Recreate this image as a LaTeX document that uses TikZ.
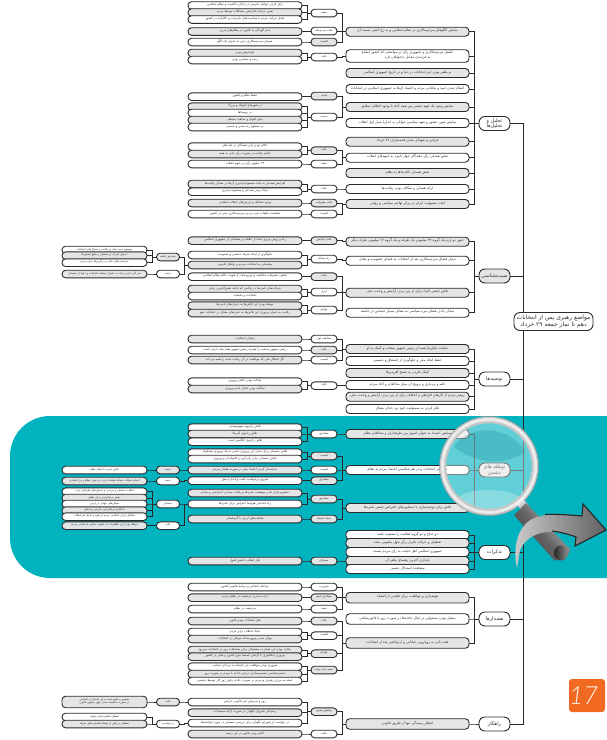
\documentclass[tikz,border=0pt]{standalone}
\usepackage{fontspec}
\usetikzlibrary{calc}
\TeXXeTstate=1
\newfontfamily\arabicfont[Script=Arabic]{DejaVu Sans}
\newfontfamily\numfont{Lato Light Italic}
\newcommand\fa[1]{{\arabicfont\raisebox{0pt}[0pt][0pt]{#1}}}
\newcommand\fb[1]{{\arabicfont #1}}
\newcommand\nm[1]{\beginL #1\endL{}}
\definecolor{tealbg}{HTML}{00B3BF}
\definecolor{boxgray}{HTML}{E4E5E6}
\definecolor{edgecol}{HTML}{2A2A2A}
\definecolor{txtcol}{HTML}{2E2E2E}
\definecolor{orangebox}{HTML}{F26A21}
\tikzset{
 pill/.style={draw=edgecol,line width=.9pt,rounded corners=3.6pt,inner sep=0pt,align=center,text=txtcol},
 wh/.style={fill=white},
 gr/.style={fill=boxgray},
 lf/.style={pill,minimum width=114pt,minimum height=7.6pt,font=\fontsize{3.1}{3.4}\selectfont},
 sb/.style={pill,minimum width=26pt,minimum height=7.6pt,font=\fontsize{2.9}{3.2}\selectfont},
 mn/.style={pill,minimum width=123pt,minimum height=9pt,font=\fontsize{3.5}{4.2}\selectfont},
 ct/.style={pill,rounded corners=6pt,minimum width=31pt,minimum height=14pt,font=\fontsize{5}{5.6}\selectfont},
 fl/.style={pill,minimum width=85pt,minimum height=7.6pt,font=\fontsize{2.8}{3.1}\selectfont},
 fs/.style={pill,minimum width=23pt,minimum height=7.6pt,font=\fontsize{2.7}{3}\selectfont},
 link/.style={draw=edgecol,line width=.8pt},
}
\newcommand\mkleaf[4]{\node[lf,#1] (#2) at (245,#3) {\fa{#4}};}
\newcommand\mksub[4]{\node[sb,#1] (#2) at (324,#3) {\fa{#4}};}
\newcommand\mkmain[4]{\node[mn,#1] (#2) at (407.5,#3) {\fa{#4}};}
\newcommand\mkfarleaf[4]{\node[fl,#1] (#2) at (104.5,#3) {\fa{#4}};}
\newcommand\mkfarsub[4]{\node[fs,#1] (#2) at (168,#3) {\fa{#4}};}
\begin{document}
\begin{tikzpicture}[x=1pt,y=-1pt]
\useasboundingbox (0,0) rectangle (607,740);
\begin{scope}
\clip (0,0) rectangle (607,740);
\fill[tealbg,rounded corners=40pt] (10,416) -- (660,416) -- (660,578) -- (10,578) -- cycle;
\end{scope}
\coordinate (trunk) at (523,322);
% ---- leaves
\mkleaf{wh}{l1}{5.5}{\beginR زایل کردن عوامل تخریبی در ارکان حاکمیت و نظام اسلامی\endR}
\mkleaf{gr}{l2}{12.5}{\beginR تعیین حرکت افزایشی مشکلات توسط مردم\endR}
\mkleaf{wh}{l3}{19.5}{\beginR تقابل حرکت مردم با سیاست‌های نادرست و ناکارآمد در کشور\endR}
\mkleaf{gr}{l4}{31.5}{\beginR عدم آلودگی به قانون در نظام‌های غربی\endR}
\mkleaf{wh}{l5}{42}{\beginR معرفی مردم‌سالاری دینی به عنوان یک الگو\endR}
\mkleaf{gr}{l6}{53}{\beginR خودجوش بودن\endR}
\mkleaf{wh}{l7}{60}{\beginR زنده و سیاسی بودن\endR}
\mkleaf{wh}{l8}{96.7}{\beginR حفظ نظام و کشور\endR}
\mkleaf{gr}{l9}{106.7}{\beginR در شهرهای کوچک و بزرگ\endR}
\mkleaf{wh}{l10}{113}{\beginR در روستاها\endR}
\mkleaf{gr}{l11}{120}{\beginR میان اقوام و مذاهب مختلف\endR}
\mkleaf{wh}{l12}{127}{\beginR در سطوح رده سنی و جنسی\endR}
\mkleaf{wh}{l13}{146.7}{\beginR ناکام بودن رأی دهندگان در یک نظر\endR}
\mkleaf{gr}{l14}{154}{\beginR انجام رقابت در صورت رأی دادن به همه\endR}
\mkleaf{wh}{l15}{164}{\beginR \nm{۱۴} میلیون رأی در جبهه انقلاب\endR}
\mkleaf{gr}{l16}{184}{\beginR افزایش همدلی به علت مسئولیت‌پذیری آن‌ها در مقابل رقابت‌ها\endR}
\mkleaf{wh}{l17}{191.7}{\beginR ایجاد زمین همدلی و مسئولیت‌پذیری\endR}
\mkleaf{gr}{l18}{203}{\beginR وجود تشکیک و ارزش‌های انقلاب اسلامی\endR}
\mkleaf{wh}{l19}{214}{\beginR شکست تبلیغات غرب و نیز مردم‌سالاری دینی در کشور\endR}
\mkleaf{gr}{l20}{240.7}{\beginR راه و روش پیروی ملت از انقلاب و پشتیبانی از جمهوری اسلامی\endR}
\mkleaf{wh}{l21}{255}{\beginR جلوگیری از ایجاد تفرقه دشمنی و خصومت\endR}
\mkleaf{gr}{l22}{265}{\beginR پشتیبانی به انتخابات مردم و راهکار قانونی\endR}
\mkleaf{wh}{l23}{276.7}{\beginR تبلیغی مغرضانه مخالفت و توزیع ملت از هویت حاکم نظام اسلامی\endR}
\mkleaf{gr}{l24}{289}{\beginR شرکت‌های نامزدها در رقابتی که باعث نقش‌آفرینی زمان\endR}
\mkleaf{wh}{l25}{296}{\beginR انتخابات و تبلیغات\endR}
\mkleaf{gr}{l26}{305.7}{\beginR توطئه بودن این تلاش‌ها به جریان‌های نامزدها\endR}
\mkleaf{gr}{l27}{313}{\beginR رقابت به عنوان پیروزی این تلاش‌ها به نامزدهای مقابل در انتخابات نفع\endR}
\mkleaf{gr}{l28}{339}{\beginR رقیبان انتخابات\endR}
\mkleaf{wh}{l29}{350}{\beginR رئیس جمهور منتخب را همراه رئیس جمهور همهٔ ملت ایران است\endR}
\mkleaf{gr}{l30}{360}{\beginR اگر اشکال فنی که موافقت در آن رعایت شده را همه می‌داند\endR}
\mkleaf{wh}{l31}{381.7}{\beginR ساکت بودن عامل پیروزی\endR}
\mkleaf{gr}{l32}{389}{\beginR ساکت بودن عامل عدم پیروزی\endR}
\mkleaf{wh}{l33}{427.7}{\beginR تلاش رادیوی صهیونیستی\endR}
\mkleaf{gr}{l34}{434}{\beginR تلاش رادیوی آمریکا\endR}
\mkleaf{wh}{l35}{441.7}{\beginR تلاش رادیوی انگلیس خبیث\endR}
\mkleaf{wh}{l36}{452.7}{\beginR تلاش دشمنان برای تبدیل این پیروزی حتمی به یک پیروزی مشکوک\endR}
\mkleaf{wh}{l37}{459}{\beginR تلاش دشمنان برای رأی آوردن فاصله‌دار و پیروزی\endR}
\mkleaf{gr}{l38}{470}{\beginR خدشه‌دار کردن اعتماد ملی در صورت فقدان مردم\endR}
\mkleaf{wh}{l39}{480.7}{\beginR شروع درخواست عقب و اندازه بیش\endR}
\mkleaf{gr}{l40}{493}{\beginR دستاویز قرار دادن موفقیت نامزدها و رقابت میدانی اعتراضی و نزاعی\endR}
\mkleaf{wh}{l41}{504}{\beginR راه انداختن هواپیما اعتراض برای نامزدها\endR}
\mkleaf{gr}{l42}{519}{\beginR فعالیت‌های ایران با گرجستان\endR}
\mkleaf{gr}{l43}{561}{\beginR قتل انقلاب داشتن قبول\endR}
\mkleaf{wh}{l44}{587}{\beginR مراحله انتخابی و برنامهٔ قانونی کشور\endR}
\mkleaf{gr}{l45}{597.7}{\beginR اراده مداری مرجعیت در نظام مردم\endR}
\mkleaf{wh}{l46}{609}{\beginR مرجعیت در نظام\endR}
\mkleaf{gr}{l47}{621}{\beginR قتل انتخابات بودن قانون\endR}
\mkleaf{wh}{l48}{632}{\beginR ایجاد اختلاف برای مردم\endR}
\mkleaf{gr}{l49}{639}{\beginR پنهان شدن پیروزمندانهٔ عوامل در انتخابات\endR}
\mkleaf{gr}{l50}{650}{\beginR رقابت بودن این شعار به مسئولان برای مسابقات زور در انتخابات می‌رود\endR}
\mkleaf{gr}{l51}{656.7}{\beginR پیروزی دیکتاتوری یا گرفتن نامه‌ها بدون قانون و ملتی در کشور\endR}
\mkleaf{wh}{l52}{666.7}{\beginR ضروری بودن موافقت این اشتباه به تن‌دادن حمایت\endR}
\mkleaf{gr}{l53}{674}{\beginR دشمن‌شناسی تصمیم‌سازان درباره حادثه با مردم در صورت زور\endR}
\mkleaf{wh}{l54}{681}{\beginR حمله به مرزی رهبری و مردم در صورت حادثه رفتن زور کار توسط دشمنی\endR}
\mkleaf{wh}{l55}{702}{\beginR زور و پذیرفتن غیر قانونی خراش\endR}
\mkleaf{gr}{l56}{712.7}{\beginR رسیدگی شورای نگهبان در صورت ارائه مستندات\endR}
\mkleaf{wh}{l57}{723}{\beginR در خواست از شورای نگهبان برای بررسی تفصیلی در مورد خواسته‌ها\endR}
\mkleaf{gr}{l58}{734}{\beginR کامل بودن قانون در این زمینه\endR}
% ---- sub nodes
\mksub{wh}{s1}{13}{\beginR نتیجه\endR}
\mksub{wh}{s2}{31}{\beginR علت دو مرحله\endR}
\mksub{gr}{s3}{42}{\beginR اهمیت\endR}
\mksub{wh}{s4}{57}{\beginR علت\endR}
\mksub{gr}{s5}{96}{\beginR هدف\endR}
\mksub{wh}{s6}{117}{\beginR نسبت\endR}
\mksub{gr}{s7}{150.7}{\beginR علت\endR}
\mksub{wh}{s8}{164}{\beginR نتیجه\endR}
\mksub{wh}{s9}{189}{\beginR علت\endR}
\mksub{gr}{s10}{203}{\beginR علت مقبولیت\endR}
\mksub{wh}{s11}{214}{\beginR اهمیت\endR}
\mksub{gr}{s12}{240.7}{\beginR علت پیدایش\endR}
\mksub{wh}{s13}{259}{\beginR راه مقابله\endR}
\mksub{gr}{s14}{276.7}{\beginR علت\endR}
\mksub{wh}{s15}{292}{\beginR ابزار\endR}
\mksub{wh}{s16}{310}{\beginR عوامل\endR}
\mksub{wh}{s17}{339}{\beginR مخاطب اول\endR}
\mksub{gr}{s18}{350}{\beginR علت\endR}
\mksub{wh}{s19}{360}{\beginR اهمیت\endR}
\mksub{wh}{s20}{385.7}{\beginR علت\endR}
\mksub{wh}{s21}{434}{\beginR مصادیق\endR}
\mksub{gr}{s22}{456}{\beginR اهمیت\endR}
\mksub{wh}{s23}{470}{\beginR اهمیت\endR}
\mksub{gr}{s24}{480.7}{\beginR مصادیق\endR}
\mksub{gr}{s25}{499}{\beginR مصادیق\endR}
\mksub{gr}{s26}{519}{\beginR نتیجهٔ تمسک\endR}
\mksub{gr}{s27}{561}{\beginR مصداق\endR}
\mksub{wh}{s28}{587}{\beginR ضرورت\endR}
\mksub{gr}{s29}{597.7}{\beginR مصادیق عمل\endR}
\mksub{wh}{s30}{609}{\beginR نتیجه\endR}
\mksub{gr}{s31}{621}{\beginR علت\endR}
\mksub{wh}{s32}{635.7}{\beginR اهمیت\endR}
\mksub{gr}{s33}{653.7}{\beginR عوامل\endR}
\mksub{gr}{s34}{670}{\beginR نتیجه عدم توجه\endR}
\mksub{gr}{s35}{711.7}{\beginR مواضع رهبری\endR}
\mksub{wh}{s36}{734}{\beginR علت\endR}
% ---- main nodes
\mkmain{gr}{d1}{31.7}{\beginR نمایش الگوهای مردم‌سالاری در نظام اسلامی و به رخ کشی نسبت آن\endR}
\node[mn,wh,minimum height=12.5pt] (d2) at (407.5,56) {\fa{\beginR تکمیل مردم‌سالاری و جمهوری رأی در مواضعی که کشور امتناع\endR}\\\fa{\beginR به فرایندی مقابل بدخواهان دارد\endR}};
\mkmain{gr}{d3}{73}{\beginR بی‌نظیر بودن این انتخابات در دنیا و در تاریخ جمهوری اسلامی\endR}
\mkmain{wh}{d4}{89}{\beginR آشکار شدن امید و شادابی مردم و اعتماد آن‌ها به جمهوری اسلامی در انتخابات\endR}
\mkmain{gr}{d5}{107}{\beginR نمایش وجود یک تعهد جمعی بین همه آحاد با وجود اختلاف سلایق\endR}
\mkmain{wh}{d6}{123}{\beginR نمایش شور، شعور و تعهد سیاسی جوانان به اندازهٔ نسل اول انقلاب\endR}
\mkmain{gr}{d7}{141.7}{\beginR قربانی و شهدای شدن فتنه‌سازان \nm{۲۲} خرداد\endR}
\mkmain{wh}{d8}{157.7}{\beginR نقش همدلی رأی دهندگان چهار نامزد به جبهه‌های انقلاب\endR}
\mkmain{gr}{d9}{173}{\beginR نقش همدلی کاندیداها به نظام\endR}
\mkmain{wh}{d10}{189}{\beginR ارائه همدلی و شکاف بودن رقابت‌ها\endR}
\mkmain{gr}{d11}{204}{\beginR اثبات مقبولیت ایران در برابر تهاجم سیاسی و روانی\endR}
\mkmain{gr}{d12}{241.7}{\beginR عبور دو پاره یک گروه \nm{۲۴} میلیونی یک طرفه و یک گروه \nm{۱۴} میلیونی طرف دیگر\endR}
\mkmain{wh}{d13}{260.7}{\beginR تبدیل فضای مردم‌سالاری بعد از انتخابات به فضای خصومت و تقابل\endR}
\mkmain{gr}{d14}{292.7}{\beginR تلاش جمعی افراد برای از بین بردن آرامش و وحدت ملی\endR}
\mkmain{wh}{d15}{312.7}{\beginR نمایان دادن فضای تیره سیاسی به مقابل بسیار حساس در جامعه\endR}
\mkmain{gr}{d16}{349}{\beginR حمایت یکپارچهٔ همه از رئیس جمهور منتخب و کمک به او\endR}
\mkmain{wh}{d17}{361}{\beginR حفظ اتحاد ملی و جلوگیری از انشقاق و دشمنی\endR}
\mkmain{gr}{d18}{373}{\beginR کمک نکردن به تشنج آفرینی‌ها\endR}
\mkmain{wh}{d19}{385}{\beginR حلم و بردباری و ترویج آن میان مخالفان و آحاد مردم\endR}
\mkmain{gr}{d20}{396.7}{\beginR پرهیز مردم از کارهای افراطی و اختلاف برای از بین بردن آرامش و وحدت ملی\endR}
\mkmain{wh}{d21}{409}{\beginR فکر کردن به مسئولیت خود نزد خدای متعال\endR}
\mkmain{gr}{d22}{434}{\beginR سایش اعتماد به عنوان اصول بین طرفداران و مخالفان نظام\endR}
\mkmain{wh}{d23}{470}{\beginR تردید در انتخابات و در هم شکستن اعتماد مردم به نظام\endR}
\mkmain{gr}{d24}{508}{\beginR تلاش برای توجیه‌سازی با دستاویزهای اعتراض جمعی نامزدها\endR}
\mkmain{wh}{d25}{535}{\beginR دو جناح و دو گروه فعالیت را تضعیف نکنند\endR}
\mkmain{gr}{d26}{543}{\beginR تعطیلی و حرکت نکردن رأی چهل میلیونی ملت\endR}
\mkmain{wh}{d27}{552}{\beginR جمهوری اسلامی اهل خیانت به رأی مردم نیست\endR}
\mkmain{gr}{d28}{561}{\beginR پایداری آخرین رهنمای ماهر آن\endR}
\mkmain{wh}{d29}{569}{\beginR مشاهدهٔ استدلال دشمن\endR}
\node[mn,gr,minimum height=10.5pt] (d30) at (407.5,597.7) {\fa{\beginR هوشیاری و مواظبت برای غلتیدن از اشتباه\endR}};
\node[mn,wh,minimum height=10.5pt] (d31) at (407.5,619) {\fa{\beginR متقبل بودن مسئولین در قبال حادثه‌ها در صورت زور یا قانون‌شکنی\endR}};
\node[mn,gr,minimum height=10.5pt] (d32) at (407.5,643) {\fa{\beginR فتنه دادن به رویارویی خیابانی و اردوکشی بعد از انتخابات\endR}};
\node[mn,gr,minimum height=10.5pt] (d33) at (407.5,724) {\fa{\beginR انتظار رسیدگی تنها از طریق قانونی\endR}};
% ---- far-left
\mkfarleaf{wh}{f1}{250}{\beginR موضوع بحث ملت و رقابت و جنجال‌های انتخابات\endR}
\mkfarleaf{gr}{f2}{255.7}{\beginR دعوای احزاب و منتخبان و تبلیغ تبعیض‌ها\endR}
\mkfarleaf{wh}{f3}{262.7}{\beginR مزاحمت‌های ملت و درگیری‌ها میان مردم\endR}
\mkfarleaf{gr}{f4}{274}{\beginR سر گرم کردن ملت به عنوان مسئله انتخابات و دعوا از دشمنان\endR}
\mkfarsub{gr}{g1}{257}{\beginR مصادیق غلطه\endR}
\mkfarsub{wh}{g2}{274}{\beginR نتیجه\endR}
\mkfarleaf{wh}{f5}{470}{\beginR تلاش تخریب اعتماد نظام\endR}
\mkfarleaf{gr}{f6}{481}{\beginR انجام عملیات شبانهٔ تبلیغات غرب در مورد نظام و بی‌اعتمادی\endR}
\mkfarleaf{wh}{f7}{491.7}{\beginR انقلاب مخملی و مردمی و جنبش‌های طرفدار غرب\endR}
\mkfarleaf{gr}{f8}{498}{\beginR نقش نرم‌افزاری برابر نظام\endR}
\mkfarleaf{wh}{f9}{504}{\beginR تحلیل‌های جهانی در ایران\endR}
\mkfarleaf{gr}{f10}{510.7}{\beginR با انگیزهٔ نرم‌افزاری خارجی و داخلی\endR}
\mkfarleaf{wh}{f11}{516.7}{\beginR تشکیل ایران اسلامی مردم از نفوذ و داخل هر انقلاب\endR}
\mkfarleaf{gr}{f12}{525.7}{\beginR توطئه بودن این تظاهرات به عنوان نمایش نارضایتی مردم\endR}
\mkfarsub{gr}{g3}{470}{\beginR نتیجه\endR}
\mkfarsub{wh}{g4}{481}{\beginR نتیجه\endR}
\mkfarsub{wh}{g5}{504}{\beginR مصداق\endR}
\mkfarsub{wh}{g6}{525.7}{\beginR علت\endR}
\node[fl,gr,minimum height=11.5pt] (f13) at (104.5,702) {\fa{\beginR تشویق و تبلیغ خبیث برای حامیان و اعتراض\endR}\\\fa{\beginR در صورت شکسته شدن چهل میلیون قانون\endR}};
\mkfarleaf{wh}{f14}{717}{\beginR تعطیل قضاوت‌های تفرقه\endR}
\mkfarleaf{gr}{f15}{724}{\beginR تعطیلی و رفتن از توطئه قضاوت‌های تفرقه\endR}
\mkfarsub{gr}{g7}{702}{\beginR علت\endR}
\mkfarsub{wh}{g8}{724}{\beginR در خواست\endR}
% ---- categories
\node[ct,wh] (e1) at (494.5,123.5) {\fb{\beginR تحلیل و\endR}\\\fb{\beginR تحلیل‌ها\endR}};
\node[ct,gr] (e2) at (494.5,276) {\fb{\beginR سبب‌شناسی\endR}};
\node[ct,wh] (e3) at (494.5,379) {\fb{\beginR توصیه‌ها\endR}};
\node[ct,gr] (e4) at (494.5,470) {\fb{\beginR توطئه های\endR}\\\fb{\beginR دشمن\endR}};
\node[ct,wh] (e5) at (494.5,552.5) {\fb{\beginR تذکرات\endR}};
\node[ct,wh] (e6) at (494.5,619) {\fb{\beginR هشدارها\endR}};
\node[ct,wh] (e7) at (494.5,724) {\fb{\beginR راهکار\endR}};
% ---- links
\foreach \a/\b in {l1/s1,l2/s1,l3/s1,l4/s2,l5/s3,l6/s4,l7/s4,l8/s5,l9/s6,l10/s6,l11/s6,l12/s6,
 l13/s7,l14/s7,l15/s8,l16/s9,l17/s9,l18/s10,l19/s11,l20/s12,l21/s13,l22/s13,l23/s14,l24/s15,l25/s15,l26/s16,l27/s16,
 l28/s17,l29/s18,l30/s19,l31/s20,l32/s20,l33/s21,l34/s21,l35/s21,l36/s22,l37/s22,l38/s23,l39/s24,l40/s25,l41/s25,l42/s26,l43/s27,
 l44/s28,l45/s29,l46/s30,l47/s31,l48/s32,l49/s32,l50/s33,l51/s33,l52/s34,l53/s34,l54/s34,l55/s35,l56/s35,l57/s35,l58/s36,
 s1/d1,s2/d1,s3/d1,s4/d2,s5/d5,s6/d5,s7/d8,s8/d8,s9/d10,s10/d11,s11/d11,s12/d12,s13/d13,s14/d14,s15/d14,s16/d14,
 s17/d16,s18/d16,s19/d16,s20/d19,s21/d22,s22/d23,s23/d23,s24/d23,s25/d24,s26/d24,s27/d28,
 s28/d30,s29/d30,s30/d30,s31/d32,s32/d32,s33/d32,s34/d32,s35/d33,s36/d33,
 d1/e1,d2/e1,d3/e1,d4/e1,d5/e1,d6/e1,d7/e1,d8/e1,d9/e1,d10/e1,d11/e1,
 d12/e2,d13/e2,d14/e2,d15/e2,d16/e3,d17/e3,d18/e3,d19/e3,d20/e3,d21/e3,
 d22/e4,d23/e4,d24/e4,d25/e5,d26/e5,d27/e5,d28/e5,d29/e5,d30/e6,d31/e6,d32/e6,d33/e7,
 f1/g1,f2/g1,f3/g1,f4/g2,g1/l22,g2/l22,f5/g3,g3/l38,f6/g4,g4/l39,f7/g5,f8/g5,f9/g5,f10/g5,f11/g5,f12/g6,g5/l41,g6/l41,
 f13/g7,g7/l55,f14/g8,f15/g8,g8/l57}
 {\draw[link] (\a.east) -- ++(4.5,0) |- (\b.west);}
\foreach \e in {e1,e2,e3,e4,e5,e6,e7} {\draw[link] (\e.east) -| (trunk);}
\node[pill,wh,rounded corners=6pt,minimum width=79pt,minimum height=18pt,font=\fontsize{6}{7.4}\selectfont] (root) at (553.5,321.5)
 {\fb{\beginR مواضع رهبری پس از انتخابات\endR}\\\fb{\beginR دهم تا نماز جمعه \nm{۲۹} خرداد\endR}};
% ---- magnifier
\fill[white,opacity=.38] (489,466) circle (47);
\fill[tealbg!70!black,opacity=.22] (454,447) .. controls (468,424) and (510,424) .. (525,452) .. controls (508,464) and (478,466) .. (454,447) -- cycle;
\fill[white,opacity=.25] (489,500) ellipse (32 and 10);
\draw[black!22,line width=6.5pt] (489,466) circle (46);
\draw[white!92!black,line width=3pt] (489,466) circle (46.5);
\draw[black!40,line width=.5pt] (489,466) circle (49.7);
\draw[black!25,line width=1.4pt] (462,508) .. controls (480,517) and (500,517) .. (516,507);
\shade[top color=white,bottom color=black!45,shading angle=40] (516,503) -- (522,498) -- (529,505) -- (522,511) -- cycle;
\shade[left color=black!20,right color=black!75,middle color=black!60,shading angle=-50] (526,503) -- (570,549) .. controls (570,556) and (560,562) .. (554,560) -- (514,515) -- cycle;
\shade[left color=black!85,right color=black!45] (561,553) ellipse (7 and 7.5);
% ---- arrow
\shade[left color=white!80!black,middle color=black!40,right color=black!62]
 (517,568) .. controls (513,550) and (516,528) .. (532,519) .. controls (548,512) and (566,514) .. (582,516)
 -- (583,504) -- (606,530) -- (575,546) -- (576,537) .. controls (558,529) and (530,528) .. (520,550) -- (517,568) -- cycle;
\draw[black!85,line width=1.1pt] (545,514.5) .. controls (558,514) and (570,515) .. (582,516) -- (583,504) -- (606,530) -- (575,546) -- (576,537) .. controls (568,534) and (560,532) .. (552,531);
% ---- page badge
\node[fill=orangebox,rounded corners=3pt,minimum width=32pt,minimum height=33pt,inner sep=0pt,text=white!92!orange,font=\numfont\fontsize{25}{25}\selectfont] (badge) at (587,695.5) {\raisebox{-2pt}{17}\kern7pt};
\end{tikzpicture}
\end{document}
